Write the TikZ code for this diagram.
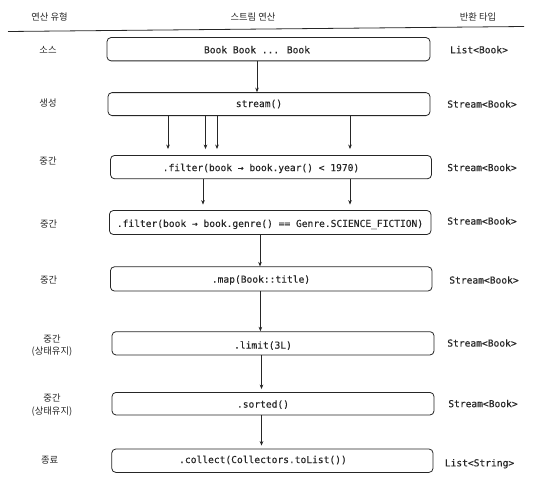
\documentclass[tikz,border=0pt]{standalone}
\usepackage{fontspec}
\newfontfamily\codefont[FakeBold=0.25]{DejaVu Sans Mono}
\newfontfamily\kofont{Noto Sans CJK KR}
\usetikzlibrary{arrows.meta}
\definecolor{ink}{HTML}{262626}
\tikzset{
  box/.style={draw=ink, line width=0.8pt, rounded corners=4pt, minimum height=23pt, inner sep=0pt},
  code/.style={font=\codefont\fontsize{9.6}{11}\selectfont, text=ink, inner sep=0pt},
  ko/.style={font=\kofont\fontsize{9.3}{12.5}\selectfont, text=ink, inner sep=0pt, align=center},
  arr/.style={draw=ink, line width=0.7pt, -{Stealth[length=4.5pt,width=3.6pt]}},
}
\begin{document}
\begin{tikzpicture}[x=1pt,y=-1pt]
\useasboundingbox (0,0) rectangle (541,482);
% header
\node[ko] (h1) at (49.5,17.4) {연산 유형};
\node[ko] (h2) at (253,17.4) {스트림 연산};
\node[ko] (h3) at (478,17.4) {반환 타입};
\coordinate (hl) at (8,31.5);
\coordinate (hr) at (524,26.5);
\draw[ink, line width=0.8pt] (hl) -- (hr);
% boxes
\node[box, minimum width=323pt, minimum height=23.3pt] (b1) at (268.5,49.2) {};
\node[box, minimum width=322pt, minimum height=23pt] (b2) at (269,104.1) {};
\node[box, minimum width=321pt, minimum height=23.3pt] (b3) at (271,167.1) {};
\node[box, minimum width=321.6pt, minimum height=24pt] (b4) at (270.2,222.5) {};
\node[box, minimum width=321.6pt, minimum height=24.2pt] (b5) at (271.2,278.9) {};
\node[box, minimum width=322pt, minimum height=23.3pt] (b6) at (273,343.3) {};
\node[box, minimum width=322pt, minimum height=22.5pt] (b7) at (273,403.7) {};
\node[box, minimum width=321.2pt, minimum height=23.4pt] (b8) at (272.4,460.7) {};
% box texts
\node[code] (t1) at (257,49.7) {Book Book ... Book};
\node[code] (t2) at (259,104) {stream()};
\node[code] (t3) at (261,168.4) {.filter(book → book.year() < 1970)};
\node[code] (t4) at (270,224.4) {.filter(book → book.genre() == Genre.SCIENCE\_FICTION)};
\node[code] (t5) at (261,280) {.map(Book::title)};
\node[code] (t6) at (263,345.6) {.limit(3L)};
\node[code] (t7) at (263,404.6) {.sorted()};
\node[code] (t8) at (263,460) {.collect(Collectors.toList())};
% left labels
\node[ko] (l1) at (48,49.5) {소스};
\node[ko] (l2) at (48,103.5) {생성};
\node[ko] (l3) at (48,161.5) {중간};
\node[ko] (l4) at (48.6,224) {중간};
\node[ko] (l5) at (48.6,280) {중간};
\node[ko] (l6) at (52,345.6) {중간\\(상태유지)};
\node[ko] (l7) at (52,405.2) {중간\\(상태유지)};
\node[ko] (l8) at (49.6,460) {종료};
% right labels
\node[code] (r1) at (479,49.7) {List<Book>};
\node[code] (r2) at (482,104) {Stream<Book>};
\node[code] (r3) at (482,167.5) {Stream<Book>};
\node[code] (r4) at (482,221) {Stream<Book>};
\node[code] (r5) at (484,280) {Stream<Book>};
\node[code] (r6) at (482,343) {Stream<Book>};
\node[code] (r7) at (483,403.6) {Stream<Book>};
\node[code] (r8) at (479.5,463.7) {List<String>};
% arrows
\draw[arr] (b1.south -| 257,0) -- (b2.north -| 257,0);
\foreach \xx in {168,205.5,217,350}
  \draw[arr, shorten >=6pt] (b2.south -| \xx,0) -- (b3.north -| \xx,0);
\foreach \xx in {203,350}
  \draw[arr, shorten >=5.5pt] (b3.south -| \xx,0) -- (b4.north -| \xx,0);
\draw[arr] (b4.south -| 260,0) -- (b5.north -| 260,0);
\draw[arr] (b5.south -| 260.4,0) -- (b6.north -| 260.4,0);
\draw[arr, shorten >=3pt] (b6.south -| 261.5,0) -- (b7.north -| 261.5,0);
\draw[arr, shorten >=3pt] (b7.south -| 261.5,0) -- (b8.north -| 261.5,0);
\end{tikzpicture}
\end{document}
